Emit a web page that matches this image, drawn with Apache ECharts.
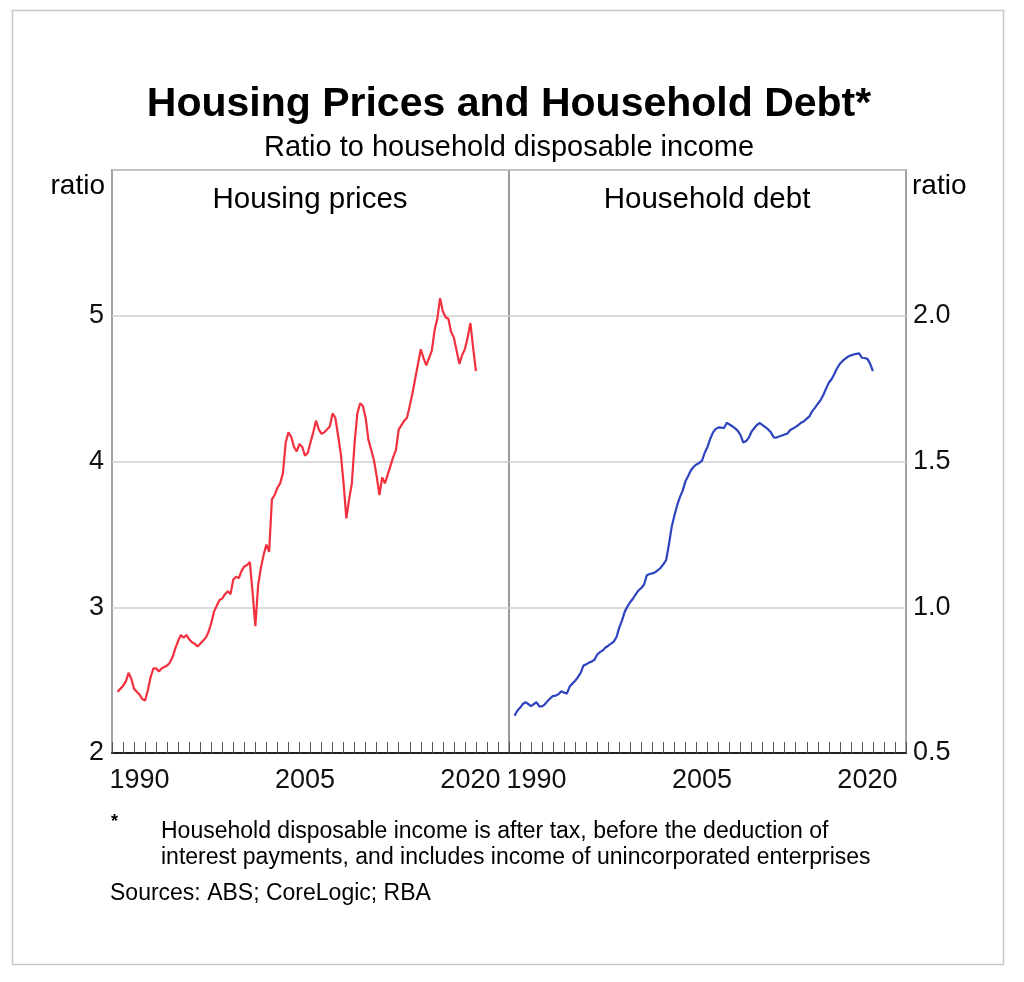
<!DOCTYPE html>
<html><head><meta charset="utf-8">
<script src="https://cdn.jsdelivr.net/npm/echarts@6/dist/echarts.min.js"></script>
<style>html,body{margin:0;padding:0;background:#fff}#c{width:1024px;height:982px}</style>
</head><body><div id="c"></div>
<script>
// ---- data ----
const startYear = 1988;      // first observation: 1988 Q2 (plotted at quarter end)
const startQuarter = 2;
const axisYears = [];        // category years for ticks / labels
for (let y = 1988; y <= 2023; y++) axisYears.push(String(y));
const xLabels = ['1990', '2005', '2020'];
const leftTicks = [2, 3, 4, 5];
const rightTicks = [0.5, 1.0, 1.5, 2.0];

// Housing prices, ratio to household disposable income (quarterly)
const housingPrices = [
  2.42, 2.44, 2.46,
  2.49, 2.55, 2.51, 2.44,
  2.42, 2.40, 2.37, 2.36,
  2.43, 2.52, 2.58, 2.58,
  2.56, 2.58, 2.59, 2.60,
  2.62, 2.66, 2.72, 2.77,
  2.81, 2.79, 2.81, 2.78,
  2.76, 2.75, 2.73, 2.75,
  2.77, 2.79, 2.83, 2.89,
  2.97, 3.01, 3.05, 3.06,
  3.09, 3.11, 3.09, 3.19,
  3.21, 3.20, 3.25, 3.28,
  3.29, 3.31, 3.10, 2.87,
  3.15, 3.27, 3.36, 3.43,
  3.38, 3.74, 3.77, 3.82,
  3.85, 3.92, 4.13, 4.20,
  4.17, 4.10, 4.07, 4.12,
  4.10, 4.04, 4.06, 4.13,
  4.20, 4.28, 4.22, 4.19,
  4.20, 4.22, 4.24, 4.33,
  4.30, 4.18, 4.05, 3.85,
  3.61, 3.74, 3.85, 4.13,
  4.33, 4.40, 4.38, 4.30,
  4.15, 4.08, 4.01, 3.90,
  3.77, 3.89, 3.85, 3.91,
  3.97, 4.03, 4.08, 4.22,
  4.25, 4.28, 4.30, 4.38,
  4.47, 4.57, 4.67, 4.77,
  4.71, 4.66, 4.71, 4.76,
  4.90, 4.98, 5.12, 5.03,
  4.99, 4.98, 4.89, 4.85,
  4.76, 4.67, 4.73, 4.77,
  4.85, 4.95, 4.78, 4.62
];

// Household debt, ratio to household disposable income (quarterly)
const householdDebt = [
  0.628, 0.645, 0.655,
  0.668, 0.674, 0.668, 0.661,
  0.668, 0.674, 0.660, 0.660,
  0.667, 0.678, 0.688, 0.696,
  0.697, 0.702, 0.712, 0.707,
  0.704, 0.728, 0.738, 0.748,
  0.760, 0.775, 0.800, 0.804,
  0.810, 0.814, 0.820, 0.838,
  0.846, 0.852, 0.862, 0.868,
  0.875, 0.882, 0.898, 0.930,
  0.955, 0.985, 1.003, 1.018,
  1.030, 1.045, 1.058, 1.066,
  1.078, 1.110, 1.114, 1.116,
  1.120, 1.127, 1.135, 1.148,
  1.162, 1.215, 1.275, 1.315,
  1.350, 1.378, 1.400, 1.432,
  1.450, 1.470, 1.482, 1.490,
  1.495, 1.503, 1.530, 1.550,
  1.578, 1.600, 1.612, 1.617,
  1.616, 1.615, 1.633, 1.627,
  1.621, 1.614, 1.605, 1.590,
  1.565, 1.570, 1.582, 1.603,
  1.615, 1.626, 1.632, 1.625,
  1.618, 1.610, 1.600, 1.583,
  1.582, 1.586, 1.589, 1.593,
  1.596, 1.608, 1.613, 1.619,
  1.626, 1.633, 1.638, 1.647,
  1.655, 1.673, 1.685, 1.698,
  1.710, 1.728, 1.750, 1.770,
  1.782, 1.800, 1.820, 1.835,
  1.845, 1.853, 1.860, 1.864,
  1.867, 1.869, 1.871, 1.856,
  1.855, 1.852, 1.835, 1.810
];

// ---- chart ----
const FONT = '"Liberation Sans", Arial, Helvetica, sans-serif';
const RED = '#f2303e', BLUE = '#2e44bf';
const qx = i => startYear + (startQuarter + i) / 4;
const toPairs = arr => arr.map((v, i) => [qx(i), v]);

const chart = echarts.init(document.getElementById('c'), null, {renderer: 'canvas'});

function catAxis(g) {
  return {
    type: 'category', gridIndex: g, data: axisYears, boundaryGap: true,
    axisLine: {show: true, lineStyle: {color: '#222', width: 2}},
    axisTick: {show: true, inside: true, length: 11, interval: 0, lineStyle: {color: '#555', width: 1}},
    axisLabel: {interval: (i, v) => xLabels.includes(v), fontFamily: FONT, fontSize: 27, color: '#111', margin: 14},
    splitLine: {show: false}
  };
}
function valAxis(g) {
  return {type: 'value', gridIndex: g, min: 1988, max: 2024, show: false};
}

chart.setOption({
  animation: false,
  backgroundColor: '#fff',
  grid: [
    {left: 112, top: 170, width: 397, height: 583, show: true, borderColor: '#999', borderWidth: 1.8},
    {left: 509, top: 170, width: 397, height: 583, show: true, borderColor: '#999', borderWidth: 1.8}
  ],
  xAxis: [catAxis(0), valAxis(0), catAxis(1), valAxis(1)],
  yAxis: [
    {
      type: 'value', gridIndex: 0, position: 'left', min: 2, max: 6, interval: 1,
      axisLine: {show: false}, axisTick: {show: false},
      axisLabel: {formatter: v => leftTicks.includes(v) ? String(v) : '', fontFamily: FONT, fontSize: 27, color: '#111', margin: 8},
      splitLine: {show: true, lineStyle: {color: '#cfcfcf', width: 1.5}}
    },
    {
      type: 'value', gridIndex: 1, position: 'right', min: 0.5, max: 2.5, interval: 0.5,
      axisLine: {show: false}, axisTick: {show: false},
      axisLabel: {formatter: v => rightTicks.some(t => Math.abs(t - v) < 1e-9) ? v.toFixed(1) : '', fontFamily: FONT, fontSize: 27, color: '#111', margin: 7},
      splitLine: {show: true, lineStyle: {color: '#cfcfcf', width: 1.5}}
    }
  ],
  series: [
    {type: 'line', name: 'Housing prices', xAxisIndex: 1, yAxisIndex: 0, data: toPairs(housingPrices),
     showSymbol: false, symbol: 'none', lineStyle: {color: RED, width: 2.2}, z: 5},
    {type: 'line', name: 'Household debt', xAxisIndex: 3, yAxisIndex: 1, data: toPairs(householdDebt),
     showSymbol: false, symbol: 'none', lineStyle: {color: BLUE, width: 2.2}, z: 5}
  ],
  graphic: [
    {type: 'rect', silent: true, shape: {x: 12.5, y: 10.5, width: 991, height: 954},
     style: {fill: 'none', stroke: '#c8c8c8', lineWidth: 1.5}},
    {type: 'text', x: 509, y: 105, style: {text: 'Housing Prices and Household Debt*', font: 'bold 41px ' + FONT, fill: '#000', textAlign: 'center', textVerticalAlign: 'middle'}},
    {type: 'text', x: 509, y: 148, style: {text: 'Ratio to household disposable income', font: '29px ' + FONT, fill: '#000', textAlign: 'center', textVerticalAlign: 'middle'}},
    {type: 'text', x: 105, y: 186, style: {text: 'ratio', font: '28px ' + FONT, fill: '#000', textAlign: 'right', textVerticalAlign: 'middle'}},
    {type: 'text', x: 912, y: 186, style: {text: 'ratio', font: '28px ' + FONT, fill: '#000', textAlign: 'left', textVerticalAlign: 'middle'}},
    {type: 'text', x: 310, y: 200, style: {text: 'Housing prices', font: '29.5px ' + FONT, fill: '#000', textAlign: 'center', textVerticalAlign: 'middle'}},
    {type: 'text', x: 707, y: 200, style: {text: 'Household debt', font: '29.5px ' + FONT, fill: '#000', textAlign: 'center', textVerticalAlign: 'middle'}},
    {type: 'text', x: 111, y: 822, style: {text: '*', font: 'bold 18px ' + FONT, fill: '#000', textAlign: 'left', textVerticalAlign: 'middle'}},
    {type: 'text', x: 161, y: 832, style: {text: 'Household disposable income is after tax, before the deduction of', font: '23px ' + FONT, fill: '#000', textAlign: 'left', textVerticalAlign: 'middle'}},
    {type: 'text', x: 161, y: 858, style: {text: 'interest payments, and includes income of unincorporated enterprises', font: '23px ' + FONT, fill: '#000', textAlign: 'left', textVerticalAlign: 'middle'}},
    {type: 'text', x: 110, y: 894, style: {text: 'Sources: ABS; CoreLogic; RBA', font: '23px ' + FONT, fill: '#000', textAlign: 'left', textVerticalAlign: 'middle'}}
  ]
});
</script>
</body></html>
